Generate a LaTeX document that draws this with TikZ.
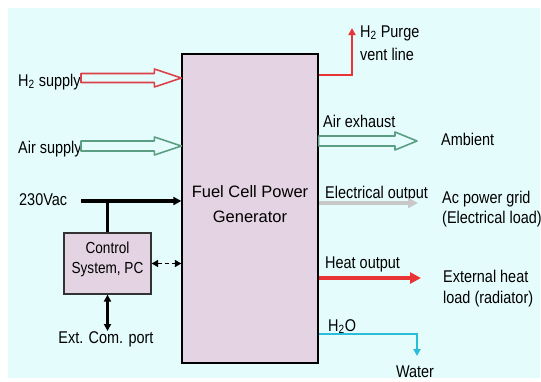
\documentclass[tikz,border=0pt]{standalone}
\usepackage{fontspec}
\setmainfont{Liberation Sans}
\newfontfamily\lblfont[FakeStretch=0.85]{Liberation Sans}
\usetikzlibrary{arrows.meta,calc}
\definecolor{bgc}{RGB}{229,252,252}
\definecolor{boxc}{RGB}{228,211,226}
\definecolor{redc}{RGB}{232,52,52}
\definecolor{redo}{RGB}{220,64,72}
\definecolor{greeno}{RGB}{92,158,132}
\definecolor{grayc}{RGB}{200,200,200}
\definecolor{cyanc}{RGB}{40,190,216}
\newcommand{\hollowarr}[6]{\draw[#6,fill=bgc,line width=1.6pt,line join=round] let \p1=(#1),\p2=(#2) in (\x1,\y1+#4) -- (\x2-#3,\y1+#4) -- (\x2-#3,\y1+#5) -- (\x2,\y1) -- (\x2-#3,\y1-#5) -- (\x2-#3,\y1-#4) -- (\x1,\y1-#4) -- cycle;}
\begin{document}
\begin{tikzpicture}[x=1pt,y=-1pt,
  lab/.style={font=\lblfont\fontsize{17}{20}\selectfont, inner sep=0pt, anchor=base west},
  bigbox/.style={draw=black, line width=1.3pt, fill=boxc, inner sep=0pt}]
\useasboundingbox (0,0) rectangle (541,381);
\fill[bgc] (8,8) rectangle (540,378);
% boxes
\node[bigbox, minimum width=136pt, minimum height=309pt] (fc) at (250,208.5) {};
\node[font=\fontsize{16.5}{25}\selectfont, align=center, inner sep=0pt] (fctxt) at (250,204) {Fuel Cell Power\\Generator};
\node[bigbox, draw=black!80, line width=1.2pt, minimum width=87pt, minimum height=61pt] (ctrl) at (107.5,263.5) {};
\node[font=\lblfont\fontsize{16}{20}\selectfont, align=center, inner sep=0pt] (ctrltxt) at (107.5,259) {Control\\System, PC};
% labels
\node[lab] (h2lbl) at (18,86) {H\textsubscript{2} supply};
\node[lab] (airlbl) at (18,153) {Air supply};
\node[lab] (vaclbl) at (19,205) {230Vac};
\node[lab, anchor=base] (extlbl) at (106,343) {Ext. Com. port};
\node[lab] (purge1) at (360,37) {H\textsubscript{2} Purge};
\node[lab] (purge2) at (360,60) {vent line};
\node[lab] (exhlbl) at (323,127) {Air exhaust};
\node[lab] (amb) at (441,145) {Ambient};
\node[lab] (eloutlbl) at (325,198) {Electrical output};
\node[lab] (grid1) at (442,203) {Ac power grid};
\node[lab] (grid2) at (442,223) {(Electrical load)};
\node[lab] (heatlbl) at (325,268) {Heat output};
\node[lab] (ext1) at (443,282) {External heat};
\node[lab] (ext2) at (443,303) {load (radiator)};
\node[lab] (h2olbl) at (328,331) {H\textsubscript{2}O};
\node[lab, anchor=base] (water) at (415,377) {Water};
% coordinates
\coordinate (h2s) at (81,78);
\coordinate (airs) at (81,146);
\coordinate (exhe) at (417,141);
\coordinate (vacs) at (81,201);
\coordinate (extc) at (107.5,331);
\coordinate (purgec) at (352,75);
\coordinate (purget) at (352,28);
\coordinate (elec) at (418,203);
\coordinate (heatc) at (421,278);
\coordinate (h2oc) at (417,334);
\coordinate (h2ot) at (417,356);
% connectors
\hollowarr{h2s}{h2s -| fc.west}{27pt}{4.5pt}{9pt}{redo}
\hollowarr{airs}{airs -| fc.west}{27pt}{5pt}{9pt}{greeno}
\hollowarr{exhe -| fc.east}{exhe}{22pt}{5pt}{9pt}{greeno}
\draw[line width=3.5pt, -{Triangle[length=8pt,width=8pt]}] (vacs) -- (vacs -| fc.west);
\draw[line width=3pt] (vacs -| ctrl.north) -- (ctrl.north);
\draw[line width=1.5pt, dash pattern=on 4pt off 3pt, {Triangle[length=6.5pt,width=7pt]}-{Triangle[length=6.5pt,width=7pt]}] (ctrl.east) -- (ctrl.east -| fc.west);
\draw[line width=2.5pt, {Triangle[length=7pt,width=7pt]}-{Triangle[length=7pt,width=7pt]}] (ctrl.south) -- (extc);
\draw[redc, line width=2pt, -{Triangle[length=7pt,width=7pt]}] (purgec -| fc.east) -- (purgec) -- (purget);
\draw[grayc, line width=4pt, -{Triangle[length=10pt,width=10pt]}] (elec -| fc.east) -- (elec);
\draw[redc, line width=4.5pt, -{Triangle[length=11pt,width=11pt]}] (heatc -| fc.east) -- (heatc);
\draw[cyanc, line width=2pt, -{Triangle[length=7pt,width=7pt]}] (h2oc -| fc.east) -- (h2oc) -- (h2ot);
\end{tikzpicture}
\end{document}
